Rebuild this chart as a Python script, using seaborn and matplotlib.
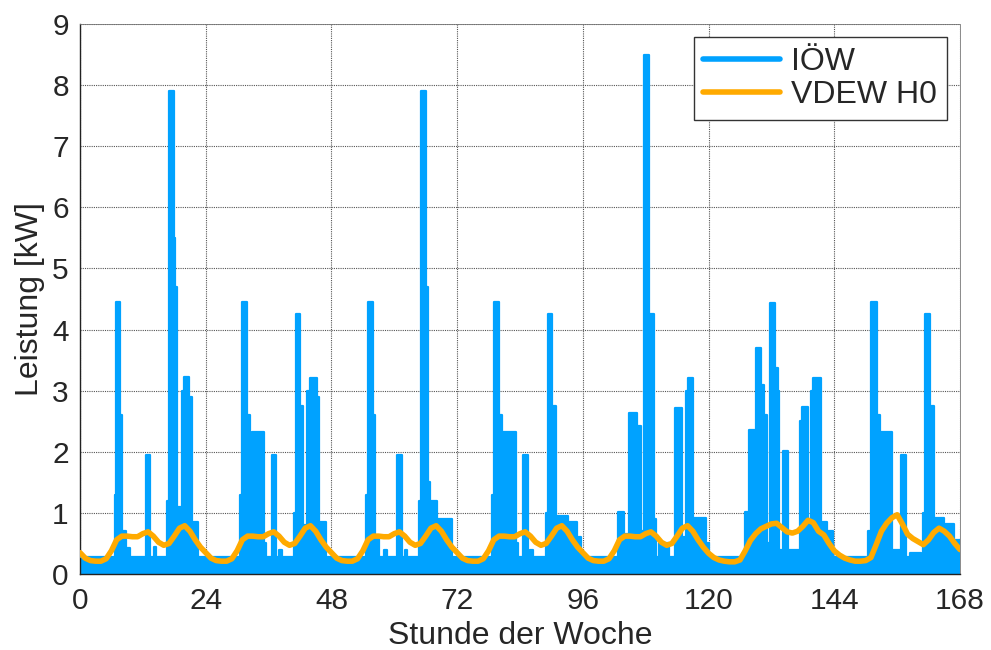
import numpy as np
import pandas as pd
import matplotlib
matplotlib.use("Agg")
import matplotlib.pyplot as plt
import seaborn as sns

# ---------------- data ----------------
# between segments the load sits at the stand-by level.
IOEW_BASE = 0.28
IOEW_DAY1 = [(6.6, 6.9, 1.3), (6.9, 7.6, 4.45), (7.6, 8.0, 2.6), (8.0, 8.8, 0.7),
             (9.0, 9.6, 0.42), (12.6, 13.4, 1.95), (14.2, 14.6, 0.45),
             (16.7, 17.0, 1.2), (17.0, 17.9, 7.9), (17.9, 18.2, 5.5), (18.2, 18.5, 4.7),
             (18.5, 19.5, 1.1), (19.5, 19.9, 3.0), (19.9, 20.8, 3.22), (20.8, 21.3, 2.9),
             (21.3, 22.6, 0.85)]
IOEW_DAY2 = [(30.6, 31.0, 1.3), (31.0, 31.9, 4.45), (31.9, 32.5, 2.6), (32.5, 32.8, 1.0),
             (32.8, 35.2, 2.33), (35.2, 35.6, 0.5), (36.7, 37.4, 1.95), (38.0, 38.5, 0.4),
             (40.9, 41.2, 1.0), (41.2, 42.0, 4.25), (42.0, 42.6, 2.75), (42.6, 43.4, 0.8),
             (43.4, 44.0, 3.0), (44.0, 45.3, 3.2), (45.3, 45.6, 2.9), (45.6, 46.9, 0.85)]
IOEW_DAY3 = [(54.6, 55.0, 1.3), (55.0, 55.9, 4.45), (55.9, 56.4, 2.6), (56.4, 57.0, 0.6),
             (58.0, 58.6, 0.4), (60.6, 61.4, 1.95), (62.0, 62.5, 0.4),
             (64.8, 65.1, 1.2), (65.1, 66.1, 7.9), (66.1, 66.5, 4.7), (66.5, 66.8, 1.5),
             (66.8, 68.2, 1.2), (68.2, 71.0, 0.9)]
IOEW_DAY4 = [(78.6, 79.0, 1.3), (79.0, 79.9, 4.45), (79.9, 80.5, 2.6), (80.5, 80.8, 1.0),
             (80.8, 83.2, 2.33), (83.2, 83.7, 0.5), (84.6, 85.5, 1.95), (86.0, 86.5, 0.4),
             (89.0, 89.3, 1.0), (89.3, 90.1, 4.25), (90.1, 90.9, 2.75), (90.9, 93.2, 0.95),
             (93.2, 94.8, 0.85), (94.8, 95.6, 0.6)]
IOEW_DAY5 = [(102.8, 103.8, 1.02), (103.8, 104.8, 0.65), (104.8, 106.3, 2.63),
             (106.3, 107.1, 2.42), (107.1, 107.6, 0.7), (107.6, 108.6, 8.5),
             (108.6, 108.9, 2.3), (108.9, 109.6, 4.25), (109.6, 110.0, 0.9),
             (110.5, 112.5, 0.5), (113.6, 115.0, 2.72), (115.0, 115.6, 0.6),
             (115.6, 116.0, 3.0), (116.0, 117.1, 3.2), (117.1, 119.6, 0.92), (119.6, 120.0, 0.5)]
IOEW_DAY6 = [(126.9, 127.8, 1.02), (127.8, 129.0, 2.35), (129.0, 130.0, 3.7),
             (130.0, 130.6, 3.1), (130.6, 131.2, 2.6), (131.2, 131.7, 0.5),
             (131.7, 132.7, 4.43), (132.7, 133.2, 3.37), (133.2, 133.5, 3.0),
             (133.5, 134.2, 0.4), (134.2, 135.2, 2.02), (135.2, 137.5, 0.4),
             (137.5, 137.9, 2.5), (137.9, 139.0, 2.73), (139.0, 139.6, 0.9),
             (139.6, 140.0, 3.0), (140.0, 141.4, 3.2), (141.4, 142.6, 0.85), (142.6, 143.8, 0.7)]
IOEW_DAY7 = [(150.4, 151.1, 0.7), (151.1, 152.1, 4.45), (152.1, 152.7, 2.6),
             (152.7, 153.0, 1.0), (153.0, 155.0, 2.33), (155.0, 156.5, 0.4),
             (156.7, 157.6, 1.95), (158.5, 160.5, 0.35), (161.0, 161.3, 1.0),
             (161.3, 162.3, 4.25), (162.3, 163.0, 2.75), (163.0, 165.0, 0.92),
             (165.0, 166.8, 0.82), (166.8, 168.0, 0.55)]

# VDEW H0 standard load profile, hourly values (kW)
H0_WEEKDAY = [0.35, 0.26, 0.22, 0.21, 0.21, 0.25, 0.38, 0.56, 0.62, 0.62, 0.61, 0.61,
              0.66, 0.69, 0.62, 0.52, 0.47, 0.50, 0.62, 0.75, 0.79, 0.70, 0.56, 0.44]
H0_SATURDAY = [0.34, 0.27, 0.23, 0.21, 0.20, 0.20, 0.23, 0.38, 0.55, 0.66, 0.74, 0.78,
               0.82, 0.83, 0.76, 0.69, 0.67, 0.70, 0.78, 0.88, 0.84, 0.70, 0.64, 0.50]
H0_SUNDAY = [0.38, 0.31, 0.26, 0.23, 0.21, 0.21, 0.22, 0.27, 0.48, 0.70, 0.83, 0.92,
             0.97, 0.82, 0.65, 0.58, 0.53, 0.48, 0.56, 0.68, 0.75, 0.70, 0.62, 0.50, 0.40]

X_TICKS = [0, 24, 48, 72, 96, 120, 144, 168]
Y_TICKS = list(range(0, 10))
LABEL_IOEW = "IÖW"
LABEL_H0 = "VDEW H0"
X_LABEL = "Stunde der Woche"
Y_LABEL = "Leistung [kW]"

BLUE = "#00A2FF"
ORANGE = "#FFAA00"

# ---------------- build series ----------------
segments = sorted(IOEW_DAY1 + IOEW_DAY2 + IOEW_DAY3 + IOEW_DAY4 +
                  IOEW_DAY5 + IOEW_DAY6 + IOEW_DAY7)
t_pts, v_pts = [], []
cur = 0.0
for s, e, v in segments:
    if s > cur:
        t_pts.append(cur); v_pts.append(IOEW_BASE)
    t_pts.append(s); v_pts.append(v)
    cur = e
if cur < 168:
    t_pts.append(cur); v_pts.append(IOEW_BASE)
t_pts.append(168.0); v_pts.append(v_pts[-1])
ioew = pd.DataFrame({"t": t_pts, "p": v_pts})

h0_vals = H0_WEEKDAY * 5 + H0_SATURDAY + H0_SUNDAY
h0 = pd.DataFrame({"t": np.arange(len(h0_vals)), "p": h0_vals})

# ---------------- plot ----------------
sns.set_style("white")
plt.rcParams["font.family"] = ["Liberation Sans", "DejaVu Sans"]

fig = plt.figure(figsize=(9.91, 6.5), dpi=100)
ax = fig.add_axes([0.0807, 0.1169, 0.8880, 0.8462])

ax.fill_between(ioew["t"], 0, ioew["p"], step="post", color=BLUE, lw=0, zorder=2)
sns.lineplot(data=ioew, x="t", y="p", ax=ax, estimator=None, sort=False,
             drawstyle="steps-post", color=BLUE, lw=1.6, label=LABEL_IOEW, zorder=3)
sns.lineplot(data=h0, x="t", y="p", ax=ax, estimator=None, sort=False,
             color=ORANGE, lw=4.0, label=LABEL_H0, zorder=4)

ax.set_xlim(0, 168)
ax.set_ylim(0, 9)
ax.set_xticks(X_TICKS)
ax.set_yticks(Y_TICKS)
ax.set_xlabel(X_LABEL, fontsize=23, labelpad=5)
ax.set_ylabel(Y_LABEL, fontsize=23, labelpad=5)
ax.tick_params(axis="both", labelsize=21.5, direction="in", length=4, width=0.8,
               color="#333333")
ax.tick_params(axis="x", pad=9)
ax.tick_params(axis="y", pad=8)
ax.grid(True, color="#555555", linestyle=(0, (1, 1)), linewidth=0.8, zorder=0)
ax.set_axisbelow(True)
for side in ["left", "bottom"]:
    ax.spines[side].set_color("#222222")
    ax.spines[side].set_linewidth(1.0)
for side in ["top", "right"]:
    ax.spines[side].set_color("#777777")
    ax.spines[side].set_linewidth(0.6)
    ax.spines[side].set_linestyle((0, (1, 1)))

leg = ax.legend(loc="upper right", fontsize=23, frameon=True, fancybox=False,
                edgecolor="#333333", framealpha=1, handlelength=2.4,
                borderpad=0.3, labelspacing=0.1, handletextpad=0.35,
                borderaxespad=0, bbox_to_anchor=(0.985, 0.976))
leg.get_frame().set_linewidth(1.0)
for line in leg.get_lines():
    line.set_linewidth(4)

fig.savefig("out.png", dpi=100)
